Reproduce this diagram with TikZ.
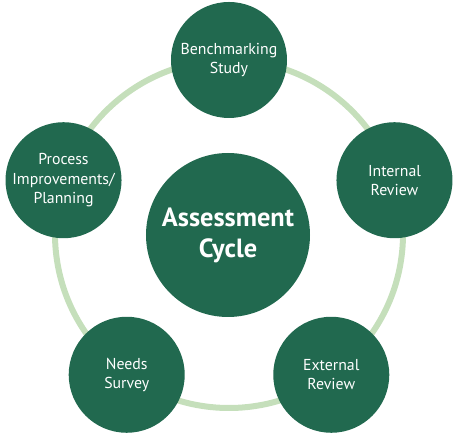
\documentclass[tikz,border=0pt]{standalone}
\usepackage{fontspec}
\setmainfont{PT Sans}
\usepackage{tikz}
\usetikzlibrary{positioning}
\definecolor{cyclegreen}{HTML}{21694F}
\definecolor{ringgreen}{HTML}{C5DFBB}
\tikzset{
    step node/.style ={circle, fill=cyclegreen, text=white, minimum size=3.48cm,
                       inner sep=0pt, align=center,
                       font=\fontsize{13.5}{16.5}\selectfont},
    hub/.style ={circle, fill=cyclegreen, text=white, minimum size=4.92cm,
                 inner sep=0pt, align=center,
                 font=\fontsize{22.5}{26.5}\selectfont\bfseries},
    ring/.style = {draw=ringgreen, line width=0.18cm}
    }

\begin{document}
\begin{tikzpicture}
    \useasboundingbox (-6.87,-6.18) rectangle (6.87,7.02);

    \draw[ring] (0,0) circle (5.22cm);

    \node[hub] (0) at (-0.03,-0.03) {Assessment\\Cycle};

    \node[step node] (1) at (90:5.22) {Benchmarking\\Study};
    \node[step node] (2) at (18:5.22) {Internal\\Review};
    \node[step node] (3) at (-54:5.22) {External\\Review};
    \node[step node] (4) at (-126:5.22) {Needs\\Survey};
    \node[step node] (5) at (162:5.22) {Process\\Improvements/\\Planning};
\end{tikzpicture}
\end{document}
